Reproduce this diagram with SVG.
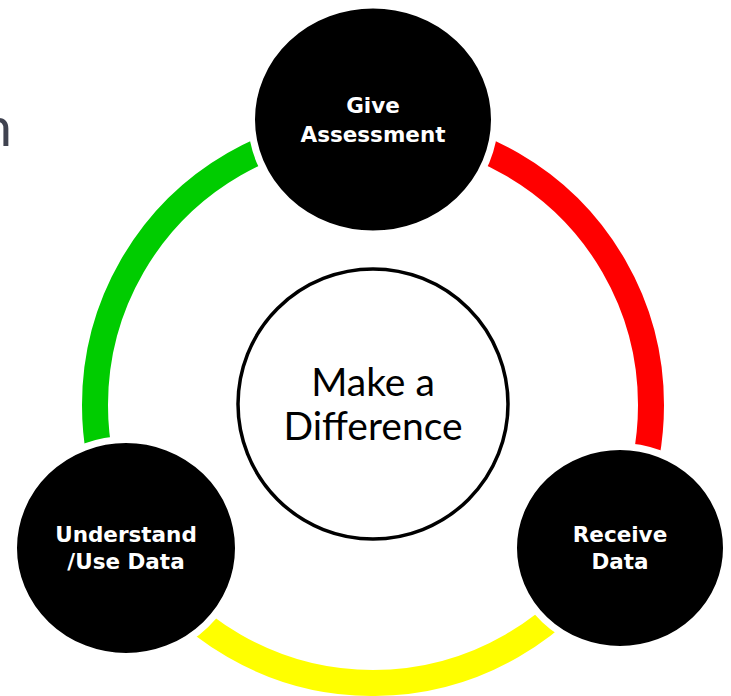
<svg xmlns="http://www.w3.org/2000/svg" width="731" height="696" viewBox="0 0 731 696">
  <style>
    .arc { fill: none; stroke-width: 26; }
    .node ellipse { fill: #000; stroke: #fff; stroke-width: 7; }
    .label { font-family: "DejaVu Sans", "Liberation Sans", sans-serif; font-weight: bold; font-size: 21.5px; fill: #fff; text-anchor: middle; }
    .hub { fill: #fff; stroke: #000; stroke-width: 3.5; }
    .hub-text { font-family: Lato, "Liberation Sans", sans-serif; font-size: 39px; fill: #000; text-anchor: middle; }
    .title { font-family: Lato, "Liberation Sans", sans-serif; font-size: 55px; fill: #404350; text-anchor: end; }
  </style>

  <rect width="731" height="696" fill="#fff"/>

  <!-- clipped title letter at the left edge -->
  <text class="title" x="12" y="146">n</text>

  <!-- cycle ring: three coloured arcs between the nodes -->
  <g id="connectors">
    <path class="arc" stroke="#ff0000" d="M 373 127 A 278 278 0 0 1 613.76 544"/>
    <path class="arc" stroke="#ffff00" d="M 613.76 544 A 278 278 0 0 1 132.24 544"/>
    <path class="arc" stroke="#00cc00" d="M 132.24 544 A 278 278 0 0 1 373 127"/>
  </g>

  <!-- centre hub -->
  <g id="hub">
    <circle class="hub" cx="373" cy="404" r="135"/>
    <text class="hub-text" x="373" y="396">Make a</text>
    <text class="hub-text" x="373" y="439.5">Difference</text>
  </g>

  <g id="give-assessment" class="node">
    <ellipse cx="373" cy="119.5" rx="121.5" ry="114.5"/>
    <text class="label" x="373" y="112.7">Give</text>
    <text class="label" x="373" y="141.7">Assessment</text>
  </g>

  <g id="receive-data" class="node">
    <ellipse cx="620" cy="548" rx="106.5" ry="101.5"/>
    <text class="label" x="620" y="541.7">Receive</text>
    <text class="label" x="620" y="569.3">Data</text>
  </g>

  <g id="understand-use-data" class="node">
    <ellipse cx="126" cy="548" rx="112.5" ry="108.5"/>
    <text class="label" x="126" y="541.7">Understand</text>
    <text class="label" x="126" y="569.3">/Use Data</text>
  </g>
</svg>
